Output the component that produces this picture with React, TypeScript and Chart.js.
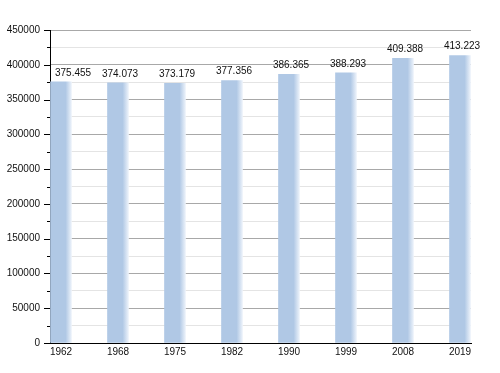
import React, { useEffect, useRef } from "react";
import { Chart, registerables } from "chart.js";

Chart.register(...registerables);

const years = ["1962", "1968", "1975", "1982", "1990", "1999", "2008", "2019"];
const population = [375455, 374073, 373179, 377356, 386365, 388293, 409388, 413223];
const yTicks = [0, 25000, 50000, 75000, 100000, 125000, 150000, 175000, 200000, 225000, 250000, 275000, 300000, 325000, 350000, 375000, 400000, 425000, 450000];

const FONT = '"Liberation Sans", Arial, Helvetica, sans-serif';
const BAR = "#b0c8e5";

const fmt = (v: number) => v.toString().replace(/\B(?=(\d{3})+(?!\d))/g, ".");

const overlay = {
  id: "overlay",
  afterDatasetsDraw(chart: any) {
    const ctx = chart.ctx;
    const ys = chart.scales.y;
    const area = chart.chartArea;
    ctx.save();
    ctx.strokeStyle = "#000";
    ctx.lineWidth = 1;
    yTicks.forEach((t) => {
      const py = Math.round(ys.getPixelForValue(t)) + 0.5;
      const major = t % 50000 === 0;
      ctx.beginPath();
      ctx.moveTo(area.left - (major ? 6 : 3), py);
      ctx.lineTo(area.left, py);
      ctx.stroke();
    });
    ctx.font = "10px " + FONT;
    ctx.fillStyle = "#111";
    ctx.textAlign = "center";
    ctx.textBaseline = "middle";
    const meta = chart.getDatasetMeta(0);
    meta.data.forEach((el: any, i: number) => {
      const text = fmt(population[i]);
      const w = ctx.measureText(text).width;
      let x = el.x + 2;
      if (x - w / 2 < area.left + 5) x = area.left + 5 + w / 2;
      ctx.fillText(text, x, el.y - 9);
    });
    ctx.restore();
  },
};

export default function App() {
  const ref = useRef<HTMLCanvasElement>(null);
  useEffect(() => {
    if (!ref.current) return;
    const chart = new Chart(ref.current, {
      type: "bar",
      data: {
        datasets: [
          {
            data: population.map((v, i) => ({ x: i, y: v })),
            barThickness: 21,
            borderWidth: 0,
            backgroundColor: (c: any) => {
              const ch = c.chart;
              const xs = ch.scales && ch.scales.x;
              if (!xs || c.dataIndex === undefined) return BAR;
              const cx = xs.getPixelForValue(c.dataIndex);
              if (!isFinite(cx)) return BAR;
              const g = ch.ctx.createLinearGradient(cx - 10.5, 0, cx + 10.5, 0);
              g.addColorStop(0, BAR);
              g.addColorStop(0.72, BAR);
              g.addColorStop(1, "rgba(236,242,250,1)");
              return g;
            },
          },
        ],
      },
      options: {
        animation: false,
        responsive: true,
        maintainAspectRatio: false,
        layout: { padding: { top: 30, right: 29, left: 0, bottom: 0 } },
        plugins: { legend: { display: false }, tooltip: { enabled: false } },
        scales: {
          x: {
            type: "linear",
            offset: false,
            min: -0.193,
            max: 7.193,
            afterBuildTicks: (axis: any) => {
              axis.ticks = years.map((_, i) => ({ value: i }));
            },
            afterFit: (s: any) => {
              s.height = 30;
            },
            grid: { display: false, drawTicks: false, offset: false },
            border: { display: true, color: "#000", width: 1 },
            ticks: {
              autoSkip: false,
              maxRotation: 0,
              padding: 3,
              color: "#111",
              font: { family: FONT, size: 10 },
              callback: (v: any) => years[v as number] ?? "",
            },
          },
          y: {
            min: 0,
            max: 450000,
            afterBuildTicks: (axis: any) => {
              axis.ticks = yTicks.map((v) => ({ value: v }));
            },
            afterFit: (s: any) => {
              s.width = 50;
            },
            grid: {
              drawTicks: false,
              color: (c: any) => (c.tick && c.tick.value % 50000 === 0 ? "#a8a8a8" : "#e4e4e4"),
            },
            border: { display: true, color: "#000", width: 1 },
            ticks: {
              autoSkip: false,
              padding: 10,
              color: "#111",
              font: { family: FONT, size: 10 },
              callback: (v: any) => ((v as number) % 50000 === 0 ? String(v) : ""),
            },
          },
        },
      },
      plugins: [overlay],
    } as any);
    return () => chart.destroy();
  }, []);
  return (
    <div style={{ position: "fixed", left: 0, top: 0, width: 500, height: 373, background: "#fff" }}>
      <canvas ref={ref} />
    </div>
  );
}
